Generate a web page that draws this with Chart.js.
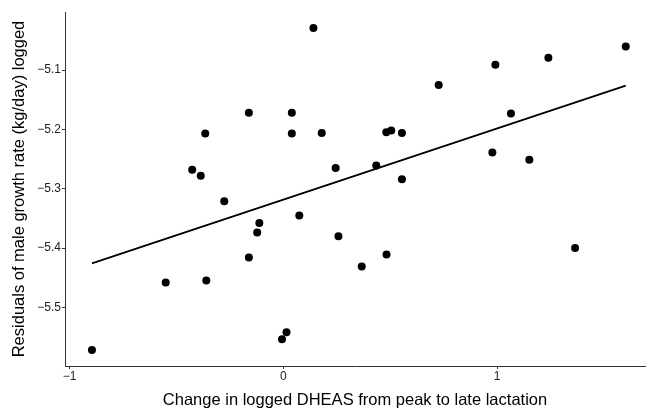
<!DOCTYPE html>
<html>
<head>
<meta charset="utf-8">
<script src="https://cdn.jsdelivr.net/npm/chart.js@4"></script>
<style>
  body { margin: 0; background: #fff; }
  canvas { display: block; }
</style>
</head>
<body>
<canvas id="myChart" width="649" height="410"></canvas>
<script>
// data
const dheasChange = [-0.895, -0.550, -0.426, -0.386, -0.365, -0.360, -0.276, -0.161, -0.161, -0.122,
  -0.112, -0.006, 0.015, 0.040, 0.040, 0.075, 0.141, 0.180, 0.245, 0.258,
  0.367, 0.435, 0.482, 0.483, 0.505, 0.555, 0.555, 0.727, 0.978, 0.992,
  1.065, 1.151, 1.240, 1.365, 1.602];
const growthResid = [-5.572, -5.458, -5.268, -5.278, -5.207, -5.455, -5.321, -5.172, -5.416, -5.374,
  -5.358, -5.554, -5.542, -5.172, -5.207, -5.345, -5.029, -5.206, -5.265, -5.380,
  -5.431, -5.261, -5.205, -5.411, -5.202, -5.206, -5.284, -5.125, -5.239, -5.091,
  -5.173, -5.251, -5.079, -5.400, -5.060];
// fitted line ends
const fitX = [-0.895, 1.602];
const fitY = [-5.426, -5.126];
const xTicks = [-1, 0, 1];
const yTicks = [-5.5, -5.4, -5.3, -5.2, -5.1];

const ctx = document.getElementById('myChart');
const points = dheasChange.map((v, i) => ({ x: v, y: growthResid[i] }));
const fit = fitX.map((v, i) => ({ x: v, y: fitY[i] }));

function fmt(v) {
  const s = String(Math.round(v * 10) / 10);
  return s.replace('-', '\u2212');
}

const font = 'Liberation Sans';

new Chart(ctx, {
  type: 'scatter',
  data: {
    datasets: [
      {
        data: points,
        backgroundColor: '#000',
        borderColor: '#000',
        pointRadius: 4,
        pointBorderWidth: 0
      },
      {
        type: 'line',
        data: fit,
        borderColor: '#000',
        borderWidth: 1.8,
        pointRadius: 0,
        fill: false
      }
    ]
  },
  options: {
    responsive: false,
    animation: false,
    layout: { padding: { top: 12, right: 2, left: 0, bottom: 0 } },
    plugins: { legend: { display: false }, tooltip: { enabled: false } },
    scales: {
      x: {
        type: 'linear',
        min: -1.021,
        max: 1.692,
        afterBuildTicks: s => { s.ticks = xTicks.map(v => ({ value: v })); },
        afterFit: s => { s.height = 44; },
        grid: { drawOnChartArea: false, drawTicks: true, tickLength: 3, color: '#333' },
        border: { display: true, color: '#333', width: 1 },
        ticks: { color: '#222', font: { family: font, size: 12 }, padding: 0, callback: v => fmt(v) },
        title: {
          display: true,
          text: 'Change in logged DHEAS from peak to late lactation',
          color: '#000',
          font: { family: font, size: 16.5 },
          padding: { top: 0, bottom: 0 }
        }
      },
      y: {
        type: 'linear',
        min: -5.599,
        max: -5.002,
        afterBuildTicks: s => { s.ticks = yTicks.map(v => ({ value: v })); },
        afterFit: s => { s.width = 65; },
        grid: { drawOnChartArea: false, drawTicks: true, tickLength: 3, color: '#333' },
        border: { display: true, color: '#333', width: 1 },
        ticks: { color: '#222', font: { family: font, size: 12 }, padding: 1, callback: v => fmt(v) },
        title: {
          display: true,
          text: 'Residuals of male growth rate (kg/day) logged',
          color: '#000',
          font: { family: font, size: 16.5 },
          padding: { top: 10, bottom: 0 }
        }
      }
    }
  }
});
</script>
</body>
</html>
